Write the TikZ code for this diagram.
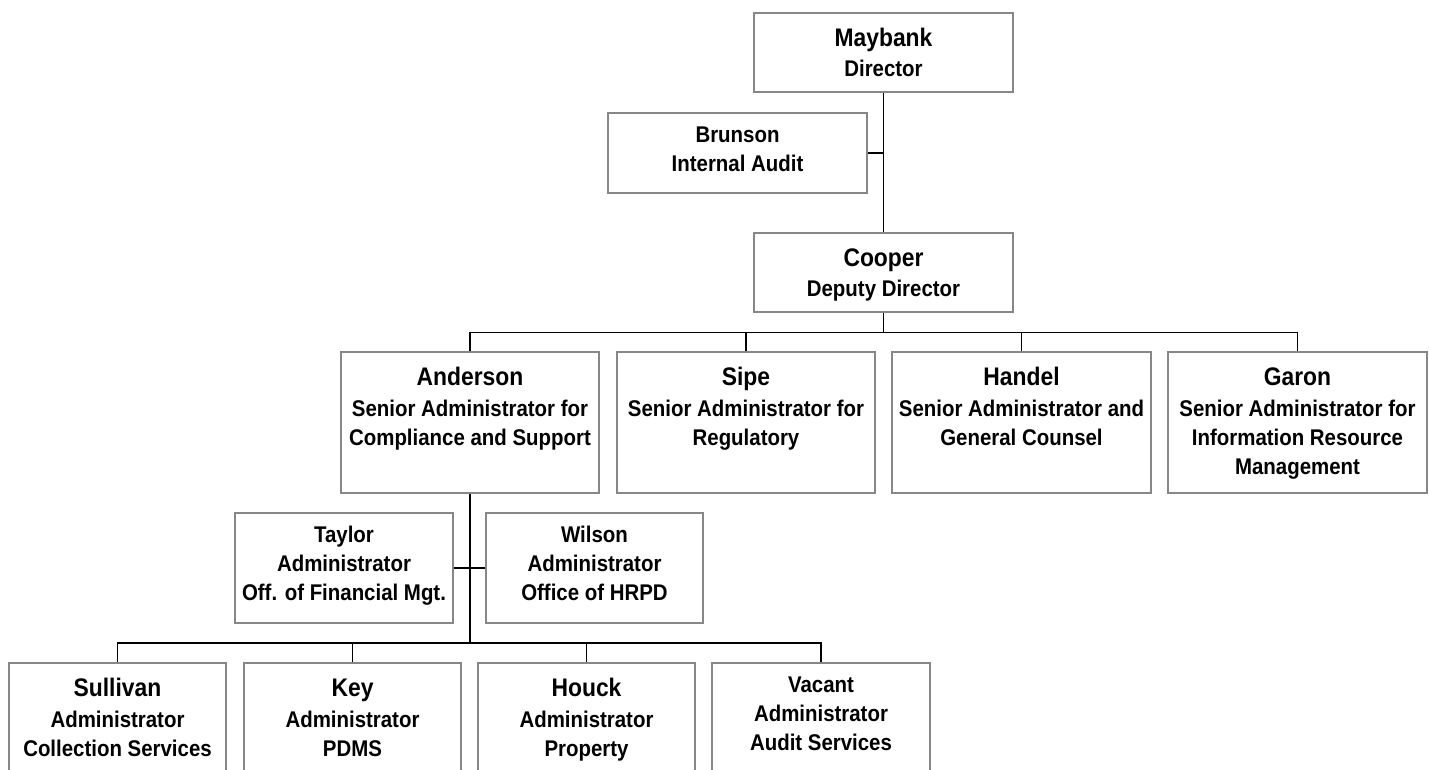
\documentclass[tikz,border=0pt]{standalone}
\usepackage{fontspec}
\setmainfont{Liberation Sans}[FakeStretch=0.9]
\definecolor{boxgray}{RGB}{135,135,135}
\newcommand\orgname{\fontsize{25.4}{29}\selectfont}
\tikzset{
  orgbox/.style={draw=boxgray, line width=1.5pt, inner sep=0pt, fill=white, rectangle},
  link/.style={draw=black, line width=1.3pt},
  orgtxt/.style={anchor=north, align=center, inner sep=0pt, font=\bfseries\fontsize{22.7}{29}\selectfont},
}
\begin{document}
\begin{tikzpicture}[x=1pt,y=-1pt]
\useasboundingbox (0,0) rectangle (1429,770);
\clip (0,0) rectangle (1429,770);
\fill[white] (0,0) rectangle (1429,770);
% bus coordinates
\coordinate (busA) at (0,332.5);
\coordinate (busB) at (0,643);
% boxes
\node[orgbox, minimum width=259pt, minimum height=79pt] (maybank) at (883.5,52.5) {};
\node[orgbox, minimum width=259pt, minimum height=80pt] (brunson) at (737.5,153) {};
\node[orgbox, minimum width=259pt, minimum height=79pt] (cooper) at (883.5,272.5) {};
\node[orgbox, minimum width=258pt, minimum height=141pt] (anderson) at (470,422.5) {};
\node[orgbox, minimum width=258pt, minimum height=141pt] (sipe) at (746,422.5) {};
\node[orgbox, minimum width=259pt, minimum height=141pt] (handel) at (1021.5,422.5) {};
\node[orgbox, minimum width=259pt, minimum height=141pt] (garon) at (1297.5,422.5) {};
\node[orgbox, minimum width=218pt, minimum height=110pt] (taylor) at (344,568) {};
\node[orgbox, minimum width=217pt, minimum height=110pt] (wilson) at (594.5,568) {};
\node[orgbox, minimum width=217pt, minimum height=127pt] (sullivan) at (117.5,726.5) {};
\node[orgbox, minimum width=217pt, minimum height=127pt] (key) at (352.5,726.5) {};
\node[orgbox, minimum width=217pt, minimum height=127pt] (houck) at (586.5,726.5) {};
\node[orgbox, minimum width=218pt, minimum height=127pt] (vacant) at (821,726.5) {};
% connectors
\draw[link] (maybank.south) -- (cooper.north);
\draw[link] (brunson.east) -- (brunson.east -| maybank.south);
\draw[link] (cooper.south) -- (cooper.south |- busA);
\draw[link] (anderson.north) -- (anderson.north |- busA) -- (garon.north |- busA) -- (garon.north);
\draw[link] (sipe.north) -- (sipe.north |- busA);
\draw[link] (handel.north) -- (handel.north |- busA);
\draw[link] (anderson.south) -- (anderson.south |- busB);
\draw[link] (taylor.east) -- (taylor.east -| anderson.south);
\draw[link] (wilson.west) -- (wilson.west -| anderson.south);
\draw[link] (sullivan.north) -- (sullivan.north |- busB) -- (vacant.north |- busB) -- (vacant.north);
\draw[link] (key.north) -- (key.north |- busB);
\draw[link] (houck.north) -- (houck.north |- busB);
% texts
\node[orgtxt] (tmaybank) at ([yshift=-15.3pt]maybank.north) {{\orgname\rule{0pt}{18.7pt}Maybank}\\[1.5pt]Director};
\node[orgtxt] (tbrunson) at ([yshift=-13.2pt]brunson.north) {\rule{0pt}{16.8pt}Brunson\\Internal Audit};
\node[orgtxt] (tcooper) at ([yshift=-15pt]cooper.north) {{\orgname\rule{0pt}{18.7pt}Cooper}\\[1.5pt]Deputy Director};
\node[orgtxt] (tanderson) at ([yshift=-15.3pt]anderson.north) {{\orgname\rule{0pt}{18.7pt}Anderson}\\[2.5pt]Senior Administrator for\\Compliance and Support};
\node[orgtxt] (tsipe) at ([yshift=-15.3pt]sipe.north) {{\orgname\rule{0pt}{18.7pt}Sipe}\\[2.5pt]Senior Administrator for\\Regulatory};
\node[orgtxt] (thandel) at ([yshift=-15.3pt]handel.north) {{\orgname\rule{0pt}{18.7pt}Handel}\\[2.5pt]Senior Administrator and\\General Counsel};
\node[orgtxt] (tgaron) at ([yshift=-15.3pt]garon.north) {{\orgname\rule{0pt}{18.7pt}Garon}\\[2.5pt]Senior Administrator for\\Information Resource\\Management};
\node[orgtxt] (ttaylor) at ([yshift=-13.2pt]taylor.north) {\rule{0pt}{16.8pt}Taylor\\Administrator\\Off. of Financial Mgt.};
\node[orgtxt] (twilson) at ([yshift=-13.2pt]wilson.north) {\rule{0pt}{16.8pt}Wilson\\Administrator\\Office of HRPD};
\node[orgtxt] (tsullivan) at ([yshift=-15pt]sullivan.north) {{\orgname\rule{0pt}{18.7pt}Sullivan}\\[2.5pt]Administrator\\Collection Services};
\node[orgtxt] (tkey) at ([yshift=-15pt]key.north) {{\orgname\rule{0pt}{18.7pt}Key}\\[2.5pt]Administrator\\PDMS};
\node[orgtxt] (thouck) at ([yshift=-15pt]houck.north) {{\orgname\rule{0pt}{18.7pt}Houck}\\[2.5pt]Administrator\\Property};
\node[orgtxt] (tvacant) at ([yshift=-12.9pt]vacant.north) {\rule{0pt}{16.8pt}Vacant\\Administrator\\Audit Services};
\end{tikzpicture}
\end{document}
